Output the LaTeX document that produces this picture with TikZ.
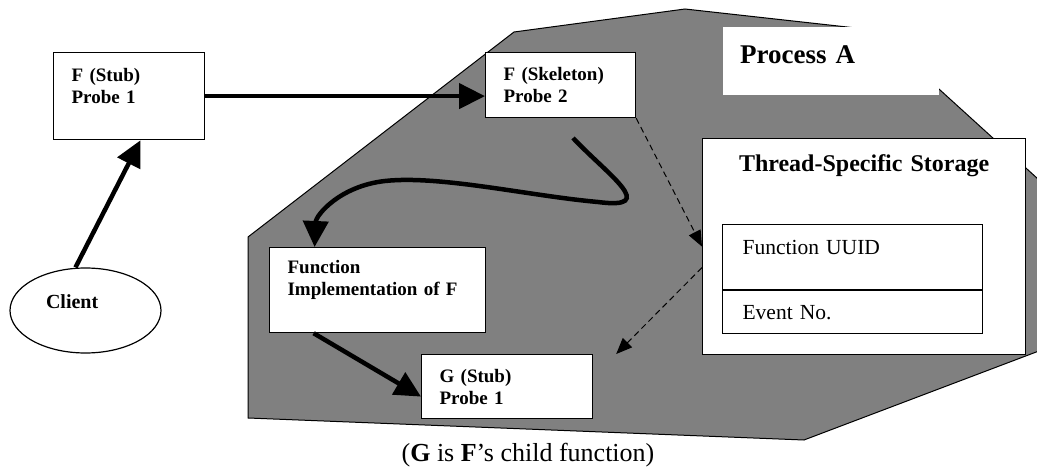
\documentclass[tikz,border=0pt]{standalone}
\usepackage{fontspec}
\setmainfont{Liberation Serif}
\usepackage{tikz}
\usetikzlibrary{arrows.meta,shapes.geometric}
\definecolor{procgray}{RGB}{128,128,128}

\begin{document}
\begin{tikzpicture}[x=1pt,y=-1pt,
        box/.style={draw,shape=rectangle,fill=white,line width=1.2pt,anchor=north west,align=left,inner xsep=18pt,inner ysep=0pt},
        probe/.style={box,font=\bfseries\fontsize{19}{21.5}\selectfont},
        slot/.style={box,inner xsep=20pt,text width=220pt,font=\fontsize{21.5}{24}\selectfont},
        call/.style={line width=4.5pt,-{Triangle[length=26pt,width=25pt]}},
        probearrow/.style={line width=1pt,dash pattern=on 6pt off 4pt,-{Triangle[length=16pt,width=13pt]}}]
        \useasboundingbox (0,0) rectangle (1037,468);
        \draw[fill=procgray,line width=1pt] (248,418) -- (248,237) -- (514,32) -- (685,9) -- (874,30) -- (1060,199) -- (1060,343) -- (804,440) -- cycle;
        \draw (723,27) node (ProcA) [anchor=north west,fill=white,align=left,inner xsep=17pt,inner ysep=0pt,text width=182pt,text height=36pt,text depth=32pt,font=\bfseries\fontsize{27}{30}\selectfont] {Process A};
        \draw (702,138) node (TSS) [box,align=center,inner xsep=20pt,text width=283pt,text height=33pt,text depth=183pt,font=\bfseries\fontsize{24}{27}\selectfont] {Thread-Specific Storage};
        \draw (722,224) node (UUID) [slot,text height=30pt,text depth=35pt] {Function UUID};
        \draw (UUID.south west) node (EventNo) [slot,text height=29pt,text depth=14pt] {Event No.};
        \draw (85.5,310.5) node (Client) [draw,shape=ellipse,line width=1.2pt,fill=white,minimum width=151pt,minimum height=85pt,text width=79pt,align=left,text height=12pt,text depth=17pt,inner sep=3pt,font=\bfseries\fontsize{20}{22}\selectfont] {Client};
        \draw (53,52) node (FStub) [probe,text width=115pt,text height=29pt,text depth=58pt] {F (Stub)\\Probe 1};
        \draw (485,52) node (FSkel) [probe,text width=114pt,text height=28pt,text depth=37pt] {F (Skeleton)\\Probe 2};
        \draw (269,247) node (Impl) [probe,text width=180pt,text height=26pt,text depth=59pt] {Function\\Implementation of F};
        \draw (421,354) node (GStub) [probe,text width=135pt,text height=28pt,text depth=36pt] {G (Stub)\\Probe 1};
        \draw[call] (FStub.east) -- (FStub.east -| FSkel.west);
        \draw[call] ([xshift=-10pt]Client.north) -- ([xshift=11.5pt]FStub.south);
        \coordinate (twist) at (573,138);
        \draw[call] (twist) .. controls (608,175) and (660,210) .. (598,202) .. controls (530,196) and (440,175) .. (385,181) .. controls (340,186) and (316,215) .. ([xshift=-63pt]Impl.north);
        \draw[call] ([xshift=-64pt]Impl.south) -- ([yshift=-10pt]GStub.west);
        \draw[probearrow] (FSkel.south east) -- (TSS.west);
        \draw[probearrow] ([yshift=-21pt]TSS.west) -- ([xshift=23pt]GStub.north east);
        \draw (528,455) node (Note) [font=\fontsize{26}{29}\selectfont] {(\textbf{G} is \textbf{F}’s child function)};
\end{tikzpicture}
\end{document}
